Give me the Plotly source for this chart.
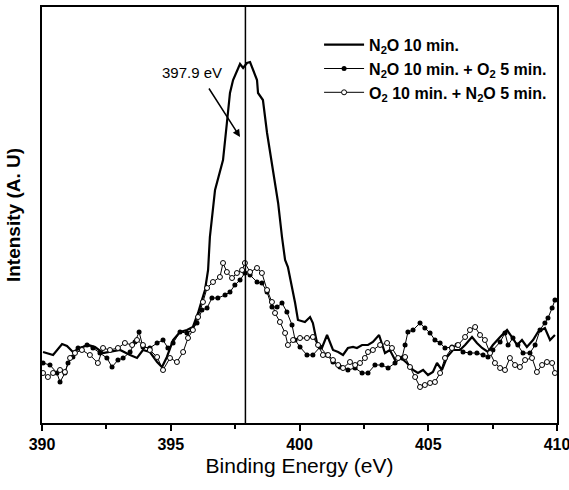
import plotly.graph_objects as go

# ---- data (binding energy in eV, intensity in arbitrary units) ----
e_n2o = [390.04,390.43,390.78,390.97,391.20,391.48,391.79,392.06,392.37,392.64,393.03,393.42,393.69,393.92,394.19,394.47,394.66,394.85,395.09,395.36,395.63,395.86,396.06,396.21,396.33,396.45,396.52,396.72,396.91,397.03,397.18,397.30,397.42,397.57,397.69,397.81,397.96,398.08,398.19,398.35,398.39,398.58,398.74,398.85,398.97,399.17,399.32,399.44,399.55,399.71,399.83,399.94,400.21,400.41,400.52,400.68,400.87,401.07,401.18,401.30,401.50,401.69,401.88,402.08,402.23,402.43,402.66,402.85,403.09,403.32,403.51,403.71,403.90,404.17,404.41,404.60,404.80,404.99,405.18,405.34,405.53,405.73,405.96,406.23,406.43,406.70,406.89,407.09,407.32,407.51,407.79,408.06,408.25,408.45,408.64,408.83,409.07,409.26,409.53,409.73,409.92]
i_n2o = [71,68,79,77,71,75,78,76,70,71,73,68,65,73,71,61,56,66,83,91,93,96,110,123,133,153,186,233,253,263,300,330,343,353,359,355,360,361,353,343,330,323,290,273,253,220,186,163,156,136,120,103,101,106,100,80,75,88,81,73,71,68,75,76,75,78,78,81,88,70,73,63,66,60,53,50,53,48,51,60,53,66,73,73,78,86,80,75,71,78,86,93,86,78,83,76,83,91,95,83,88]

e_n2o_o2 = [390.04,390.31,390.58,390.70,390.89,391.01,391.20,391.40,391.75,391.98,392.25,392.52,392.72,392.95,393.15,393.42,393.61,393.77,393.92,394.19,394.47,394.70,394.89,395.09,395.36,395.63,395.83,396.02,396.21,396.41,396.60,396.83,397.11,397.30,397.49,397.69,397.88,398.08,398.35,398.54,398.74,398.93,399.13,399.32,399.51,399.71,399.83,400.02,400.29,400.52,400.80,401.07,401.30,401.57,401.88,402.16,402.43,402.66,402.93,403.20,403.44,403.71,403.98,404.10,404.21,404.41,404.68,404.87,405.07,405.26,405.46,405.65,405.92,406.12,406.35,406.62,406.89,407.13,407.32,407.51,407.79,407.98,408.10,408.29,408.48,408.68,408.95,409.15,409.34,409.53,409.65,409.81,409.92]
i_n2o_o2 = [60,58,50,41,50,60,66,75,78,75,70,65,56,63,65,71,81,91,76,75,80,83,75,80,91,90,93,100,113,115,125,125,128,131,138,143,150,148,141,140,131,116,116,120,111,98,83,76,68,68,76,68,61,56,53,55,50,50,58,58,55,60,65,78,91,93,100,95,90,83,80,75,76,78,71,70,70,68,66,73,81,90,78,85,78,70,70,78,93,100,105,115,123]

e_o2_n2o = [390.04,390.23,390.43,390.70,390.89,391.09,391.28,391.55,391.86,392.17,392.37,392.64,392.95,393.22,393.50,393.69,393.92,394.19,394.47,394.70,394.97,395.24,395.48,395.67,395.86,396.06,396.25,396.41,396.64,396.91,397.03,397.18,397.38,397.57,397.77,397.88,398.08,398.35,398.54,398.74,398.93,399.05,399.24,399.44,399.55,399.75,400.02,400.29,400.52,400.72,400.91,401.11,401.30,401.50,401.69,401.96,402.16,402.35,402.54,402.66,402.85,403.13,403.40,403.59,403.83,404.10,404.29,404.49,404.68,404.87,405.07,405.26,405.46,405.65,405.92,406.16,406.43,406.62,406.82,407.01,407.20,407.40,407.59,407.79,407.98,408.17,408.37,408.56,408.76,409.03,409.22,409.42,409.61,409.81,409.92]
i_o2_n2o = [50,46,50,53,51,65,70,73,68,60,75,73,75,80,78,83,78,73,66,53,65,61,71,85,93,106,121,135,141,146,160,151,145,150,153,160,151,155,150,133,121,110,101,90,78,83,85,85,86,78,68,68,63,58,55,61,58,60,65,71,73,78,80,75,65,66,56,46,36,38,40,41,50,65,75,78,86,93,96,88,83,70,60,55,53,65,58,56,63,65,51,58,61,60,50]

names = ["N<sub>2</sub>O 10 min.",
         "N<sub>2</sub>O 10 min. + O<sub>2</sub> 5 min.",
         "O<sub>2</sub> 10 min. + N<sub>2</sub>O 5 min."]
x_ticks = [390, 395, 400, 405, 410]
peak_energy = 397.9
peak_label = "397.9 eV"

fig = go.Figure()
fig.add_trace(go.Scatter(x=e_n2o, y=i_n2o, mode="lines", name=names[0],
                         line=dict(color="black", width=2.2)))
fig.add_trace(go.Scatter(x=e_n2o_o2, y=i_n2o_o2, mode="lines+markers", name=names[1],
                         line=dict(color="black", width=1),
                         marker=dict(symbol="circle", size=5, color="black")))
fig.add_trace(go.Scatter(x=e_o2_n2o, y=i_o2_n2o, mode="lines+markers", name=names[2],
                         line=dict(color="black", width=1),
                         marker=dict(symbol="circle", size=5, color="white",
                                     line=dict(color="black", width=1))))

fig.add_shape(type="line", x0=peak_energy, x1=peak_energy, y0=0, y1=1,
              xref="x", yref="paper", line=dict(color="black", width=1.5))

fig.add_annotation(x=397.69, y=286, ax=-32, ay=-50, text="", showarrow=True,
                   arrowhead=2, arrowsize=1, arrowwidth=1.5, arrowcolor="black")
fig.add_annotation(x=395.83, y=351, text=peak_label, showarrow=False,
                   font=dict(family="Liberation Sans", size=15, color="black"))

fig.update_layout(
    width=569, height=490,
    margin=dict(l=42, r=12, t=7, b=67),
    paper_bgcolor="white", plot_bgcolor="white",
    font=dict(family="Liberation Sans", color="black"),
    showlegend=True,
    legend=dict(x=0.538, y=0.95, xanchor="left", yanchor="top",
                bgcolor="rgba(0,0,0,0)", borderwidth=0,
                font=dict(family="Liberation Sans", size=16, weight="bold"),
                tracegroupgap=0, itemwidth=40),
    xaxis=dict(range=[390, 410], tickvals=x_ticks, ticks="outside", ticklen=6,
               tickwidth=2, tickcolor="black", showline=True, linecolor="black",
               linewidth=2, mirror=True, showgrid=False, zeroline=False,
               automargin=False, ticklabeloverflow="allow",
               tickfont=dict(family="Liberation Sans", size=16, weight="bold"),
               minor=dict(dtick=2.5, tick0=390, ticks="outside", ticklen=4,
                          tickwidth=2, tickcolor="black", showgrid=False),
               title=dict(text="Binding Energy (eV)", standoff=6,
                          font=dict(family="Liberation Sans", size=21))),
    yaxis=dict(range=[0, 416], showticklabels=False, ticks="", showline=True,
               linecolor="black", linewidth=2, mirror=True, showgrid=False,
               zeroline=False,
               title=dict(text="Intensity (A. U)", standoff=14,
                          font=dict(family="Liberation Sans", size=19, weight="bold"))),
)

fig.write_html("out.html", config={"displayModeBar": False},
               post_script="document.body.style.margin='0';")
